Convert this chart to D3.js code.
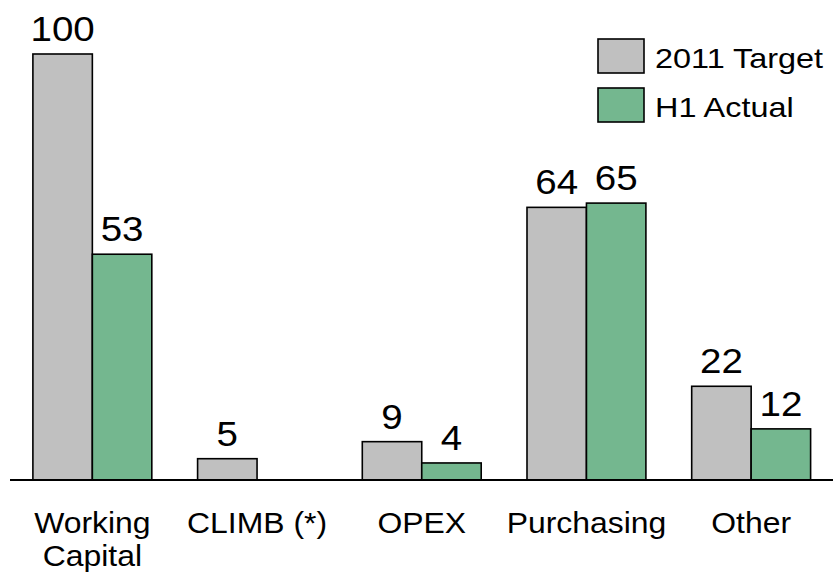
<!DOCTYPE html>
<html>
<head>
<meta charset="utf-8">
<script src="https://cdn.jsdelivr.net/npm/d3@7"></script>
<style>
  html, body { margin: 0; padding: 0; background: #fff; }
  svg text { font-family: "Liberation Sans", Arial, sans-serif; fill: #000; }
</style>
</head>
<body>
<svg id="chart" width="833" height="575"></svg>
<script>
// Savings by category: 2011 target vs first-half actual
const categories = ["Working Capital", "CLIMB (*)", "OPEX", "Purchasing", "Other"];
const categoryLines = [["Working", "Capital"], ["CLIMB (*)"], ["OPEX"], ["Purchasing"], ["Other"]];
const seriesNames = ["2011 Target", "H1 Actual"];
const target2011 = [100, 5, 9, 64, 22];
const h1Actual = [53, null, 4, 65, 12];
const seriesColors = ["#c0c0c0", "#74b78f"];

const svg = d3.select("#chart");
const baseY = 480;

const x0 = d3.scaleBand()
  .domain(categories)
  .range([10, 833.5])
  .paddingInner(0.278)
  .paddingOuter(0.139);

const x1 = d3.scaleBand()
  .domain(seriesNames)
  .range([0, x0.bandwidth()])
  .padding(0);

const y = d3.scaleLinear().domain([0, 100]).range([baseY, 54]);

const rows = categories.map((c, i) => ({
  cat: c,
  values: [
    { s: seriesNames[0], v: target2011[i] },
    { s: seriesNames[1], v: h1Actual[i] }
  ]
}));

const groups = svg.append("g").selectAll("g")
  .data(rows)
  .join("g")
  .attr("transform", d => `translate(${x0(d.cat)},0)`);

const bars = groups.selectAll("g.bar")
  .data(d => d.values.filter(e => e.v != null))
  .join("g")
  .attr("class", "bar");

bars.append("rect")
  .attr("x", d => x1(d.s))
  .attr("width", x1.bandwidth())
  .attr("y", d => y(d.v))
  .attr("height", d => baseY - y(d.v))
  .attr("fill", d => seriesColors[seriesNames.indexOf(d.s)])
  .attr("stroke", "#000")
  .attr("stroke-width", 1.6);

// value labels, set slightly wide
bars.append("text")
  .attr("transform", d => `translate(${x1(d.s) + x1.bandwidth() / 2},${y(d.v) - 13}) scale(1.1,1)`)
  .attr("text-anchor", "middle")
  .attr("font-size", 35)
  .text(d => d.v);

// baseline axis
svg.append("line")
  .attr("x1", 10).attr("x2", 833)
  .attr("y1", baseY).attr("y2", baseY)
  .attr("stroke", "#000")
  .attr("stroke-width", 2);

// category labels
const catText = svg.append("g").selectAll("text")
  .data(categories)
  .join("text")
  .attr("transform", d => `translate(${x0(d) + x0.bandwidth() / 2},533) scale(1.1,1)`)
  .attr("text-anchor", "middle")
  .attr("font-size", 29);

catText.selectAll("tspan")
  .data((d, i) => categoryLines[i])
  .join("tspan")
  .attr("x", 0)
  .attr("dy", (d, i) => i === 0 ? 0 : 33)
  .text(d => d);

// legend
const legend = svg.append("g").selectAll("g")
  .data(seriesNames)
  .join("g")
  .attr("transform", (d, i) => `translate(598,${39 + i * 49})`);

legend.append("rect")
  .attr("width", 46)
  .attr("height", 34)
  .attr("fill", (d, i) => seriesColors[i])
  .attr("stroke", "#000")
  .attr("stroke-width", 1.6);

legend.append("text")
  .attr("transform", "translate(57,29) scale(1.2,1)")
  .attr("font-size", 27)
  .text(d => d);
</script>
</body>
</html>
